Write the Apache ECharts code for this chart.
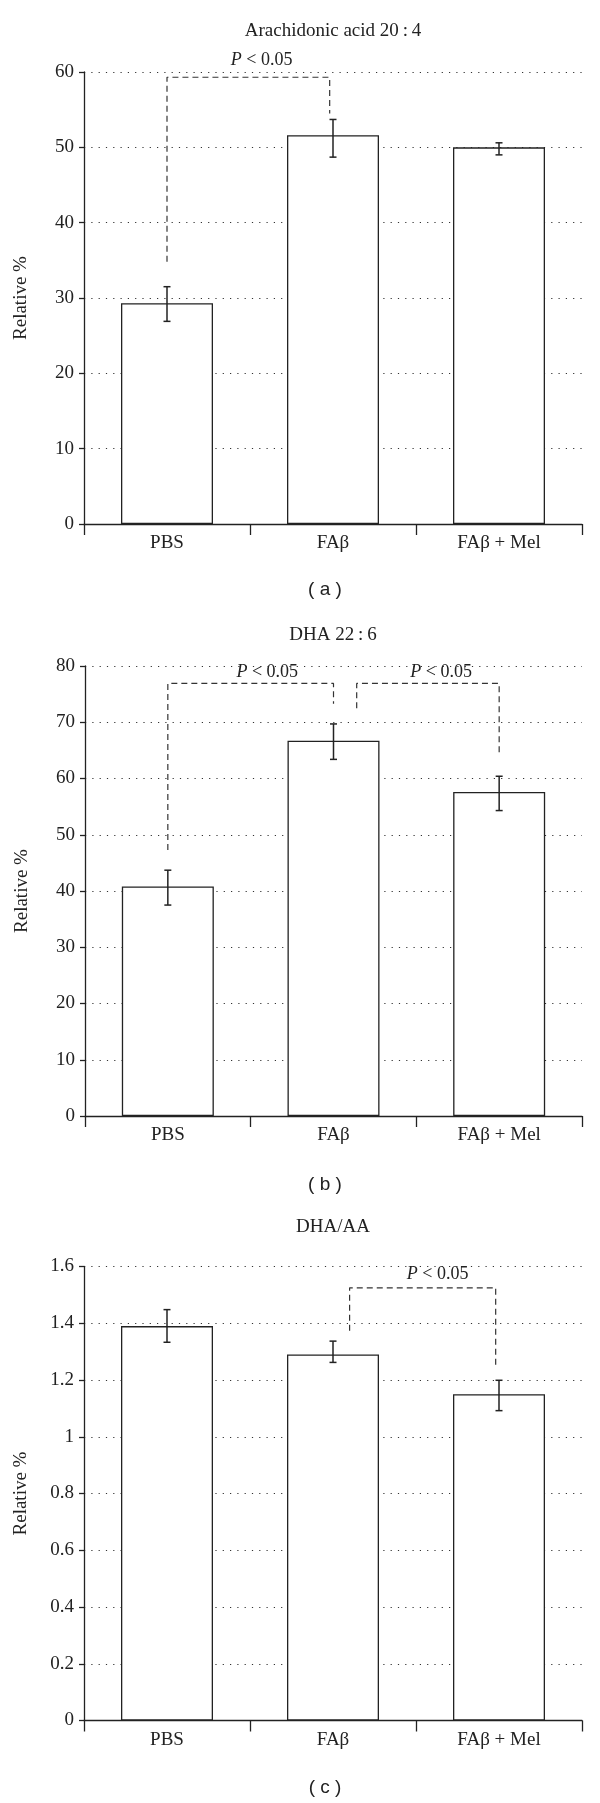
<!DOCTYPE html>
<html>
<head>
<meta charset="utf-8">
<style>
html,body{margin:0;padding:0;background:#fff;}
#c{width:600px;height:1803px;}
</style>
<script src="https://cdn.jsdelivr.net/npm/echarts@6/dist/echarts.min.js"></script>
</head>
<body>
<div id="c"></div>
<script>
// ---- data ----
const categories = ['PBS', 'FA\u03B2', 'FA\u03B2 + Mel'];
const titles = ['Arachidonic acid 20\u2009:\u20094', 'DHA 22\u2009:\u20096', 'DHA/AA'];
const captions = ['( a )', '( b )', '( c )'];

const valuesA = [29.3, 51.6, 50.0];
const errLowA = [26.9, 48.7, 49.0];
const errHighA = [31.5, 53.7, 50.6];

const valuesB = [40.8, 66.7, 57.6];
const errLowB = [37.5, 63.4, 54.3];
const errHighB = [43.7, 69.7, 60.4];

const valuesC = [1.39, 1.29, 1.15];
const errLowC = [1.333, 1.262, 1.092];
const errHighC = [1.448, 1.337, 1.199];

const yTicksA = {min: 0, max: 60, interval: 10};
const yTicksB = {min: 0, max: 80, interval: 10};
const yTicksC = {min: 0, max: 1.6, interval: 0.2};

// significance brackets: [x, y] points on a category-position scale
const bracketsA = [[[0, 34.8], [0, 59.3], [0.98, 59.3], [0.98, 54.5]]];
const bracketsB = [
  [[0, 47.3], [0, 76.9], [1, 76.9], [1, 73.3]],
  [[1.14, 72.5], [1.14, 76.9], [2, 76.9], [2, 64.4]]
];
const bracketsC = [[[1.10, 1.374], [1.10, 1.525], [1.98, 1.525], [1.98, 1.245]]];

const pLabelsA = [[0.57, 61.5]];
const pLabelsB = [[0.6, 78.9], [1.65, 78.9]];
const pLabelsC = [[1.63, 1.573]];

// ---- layout ----
const panels = [
  {vals: valuesA, lo: errLowA, hi: errHighA, ticks: yTicksA, br: bracketsA, pl: pLabelsA,
   grid: {left: 84, top: 72, width: 498, height: 452}, titleY: 31, capY: 590},
  {vals: valuesB, lo: errLowB, hi: errHighB, ticks: yTicksB, br: bracketsB, pl: pLabelsB,
   grid: {left: 85, top: 666, width: 497, height: 450}, titleY: 635, capY: 1185},
  {vals: valuesC, lo: errLowC, hi: errHighC, ticks: yTicksC, br: bracketsC, pl: pLabelsC,
   grid: {left: 84, top: 1266.5, width: 498, height: 454}, titleY: 1227, capY: 1788}
];

const SERIF = '"Liberation Serif", "Times New Roman", serif';
const SANS = '"Liberation Sans", Arial, sans-serif';
const INK = '#222';

const option = {
  animation: false,
  backgroundColor: '#fff',
  grid: [], xAxis: [], yAxis: [], series: [], graphic: []
};

panels.forEach((p, g) => {
  option.grid.push(Object.assign({containLabel: false}, p.grid));
  // category axis (index 2g)
  option.xAxis.push({
    type: 'category', gridIndex: g, data: categories, boundaryGap: true,
    axisLine: {show: true, onZero: false, lineStyle: {color: INK, width: 1.3}},
    axisTick: {show: true, length: 11, lineStyle: {color: INK, width: 1.3}},
    axisLabel: {color: INK, fontFamily: SERIF, fontSize: 19, margin: 10},
    splitLine: {show: false}
  });
  // hidden value axis for brackets (index 2g+1)
  option.xAxis.push({
    type: 'value', gridIndex: g, min: -0.5, max: 2.5, show: false,
    axisLine: {onZero: false}
  });
  option.yAxis.push({
    type: 'value', gridIndex: g, min: p.ticks.min, max: p.ticks.max, interval: p.ticks.interval,
    name: 'Relative %', nameLocation: 'middle', nameGap: 53,
    nameTextStyle: {color: INK, fontFamily: SERIF, fontSize: 19},
    axisLine: {show: true, onZero: false, lineStyle: {color: INK, width: 1.3}},
    axisTick: {show: true, length: 5, lineStyle: {color: INK, width: 1.3}},
    axisLabel: {color: INK, fontFamily: SERIF, fontSize: 19, margin: 10},
    splitLine: {show: true, lineStyle: {color: '#333', width: 1.2, type: [1.2, 6.1]}}
  });
  option.series.push({
    type: 'bar', xAxisIndex: 2 * g, yAxisIndex: g, data: p.vals, barWidth: 92,
    itemStyle: {color: '#fff', borderColor: INK, borderWidth: 1.3}, z: 3
  });
  option.series.push({
    type: 'custom', xAxisIndex: 2 * g, yAxisIndex: g, z: 4,
    data: p.vals.map((v, i) => [i, p.lo[i], p.hi[i]]),
    encode: {x: 0, y: [1, 2]},
    renderItem: function (params, api) {
      const i = api.value(0);
      const a = api.coord([i, api.value(1)]);
      const b = api.coord([i, api.value(2)]);
      const w = 3.5;
      const st = {stroke: INK, lineWidth: 1.5};
      return {type: 'group', children: [
        {type: 'line', shape: {x1: a[0], y1: a[1], x2: b[0], y2: b[1]}, style: st},
        {type: 'line', shape: {x1: a[0] - w, y1: a[1], x2: a[0] + w, y2: a[1]}, style: st},
        {type: 'line', shape: {x1: b[0] - w, y1: b[1], x2: b[0] + w, y2: b[1]}, style: st}
      ]};
    }
  });
  p.br.forEach(br => {
    option.series.push({
      type: 'line', xAxisIndex: 2 * g + 1, yAxisIndex: g, data: br, symbol: 'none', z: 5,
      clip: false,
      lineStyle: {color: '#333', width: 1.2, type: [6, 4]}
    });
  });
  option.series.push({
    type: 'scatter', xAxisIndex: 2 * g + 1, yAxisIndex: g, data: p.pl, symbolSize: 0, clip: false, z: 6,
    itemStyle: {color: INK, opacity: 1},
    label: {
      show: true, position: 'inside', formatter: '{i|P} < 0.05', opacity: 1,
      color: INK, textBorderWidth: 0, fontFamily: SERIF, fontSize: 18,
      rich: {i: {fontStyle: 'italic', fontFamily: SERIF, fontSize: 18, color: INK, textBorderWidth: 0}}
    }
  });
  option.graphic.push({
    type: 'text', x: 333, y: p.titleY,
    style: {text: titles[g], fill: INK, font: '19px ' + SERIF, textAlign: 'center', textVerticalAlign: 'middle'}
  });
  option.graphic.push({
    type: 'text', x: 325, y: p.capY,
    style: {text: captions[g], fill: INK, font: '19px ' + SANS, textAlign: 'center', textVerticalAlign: 'middle'}
  });
});

const chart = echarts.init(document.getElementById('c'), null, {renderer: 'canvas'});
chart.setOption(option);
</script>
</body>
</html>
